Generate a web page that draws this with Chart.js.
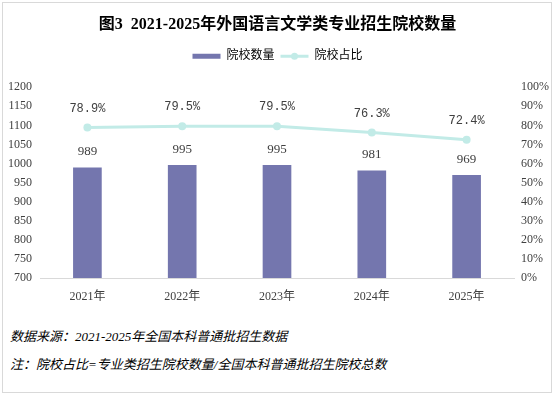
<!DOCTYPE html>
<html>
<head>
<meta charset="utf-8">
<script src="https://cdn.jsdelivr.net/npm/chart.js@4.4.1/dist/chart.umd.min.js"></script>
<style>
  body { margin: 0; background: #fff; }
  #box { position: absolute; left: 2px; top: 2px; width: 548px; height: 389px; border: 1px solid #d9d9d9; }
  #chart { position: absolute; left: 0; top: 0; }
  .note { position: absolute; left: 10px; font: italic 13px "Liberation Serif", "Noto Sans CJK SC"; color: #000; white-space: nowrap; }
</style>
</head>
<body>
<div id="box"></div>
<canvas id="chart" width="555" height="305"></canvas>
<div class="note" style="top:326px">数据来源：2021-2025年全国本科普通批招生数据</div>
<div class="note" style="top:354px">注：院校占比=专业类招生院校数量/全国本科普通批招生院校总数</div>
<script>
// data
const years = ['2021年', '2022年', '2023年', '2024年', '2025年'];
const schoolCounts = [989, 995, 995, 981, 969];
const shares = [78.9, 79.5, 79.5, 76.3, 72.4];

const barColor = '#7476ae';
const lineColor = '#c2ebe7';
const tickColor = '#404040';

// value labels above bars and points
const valueLabels = {
    id: 'valueLabels',
    afterDatasetsDraw(chart) {
        const ctx = chart.ctx;
        ctx.save();
        ctx.textAlign = 'center';
        ctx.textBaseline = 'middle';
        ctx.fillStyle = tickColor;
        ctx.font = '13px "Liberation Serif"';
        chart.getDatasetMeta(0).data.forEach((bar, i) => {
            ctx.fillText(schoolCounts[i], bar.x, bar.y - 16);
        });
        ctx.font = '12px "Liberation Mono"';
        chart.getDatasetMeta(1).data.forEach((pt, i) => {
            ctx.fillText(shares[i].toFixed(1) + '%', pt.x, pt.y - 19);
        });
        ctx.restore();
    }
};

// legend: extra space below it, and a dot in the middle of the line swatch
const legendTweaks = {
    id: 'legendTweaks',
    beforeInit(chart) {
        const legend = chart.legend;
        const fit = legend.fit;
        legend.fit = function () {
            fit.call(this);
            this.height += 15;
        };
    },
    afterDraw(chart) {
        const legend = chart.legend;
        if (!legend || !legend.legendHitBoxes[1]) return;
        const box = legend.legendHitBoxes[1];
        const ctx = chart.ctx;
        ctx.save();
        ctx.fillStyle = lineColor;
        ctx.beginPath();
        ctx.arc(box.left + 14, box.top + box.height / 2, 3.5, 0, Math.PI * 2);
        ctx.fill();
        ctx.restore();
    }
};

const config = {
    data: {
        labels: years,
        datasets: [
            {
                type: 'bar',
                label: '院校数量',
                data: schoolCounts,
                backgroundColor: barColor,
                barThickness: 28,
                yAxisID: 'y',
                order: 2
            },
            {
                type: 'line',
                label: '院校占比',
                data: shares,
                borderColor: lineColor,
                backgroundColor: lineColor,
                borderWidth: 3,
                pointRadius: 4,
                pointBackgroundColor: lineColor,
                pointBorderWidth: 0,
                yAxisID: 'y1',
                order: 1
            }
        ]
    },
    options: {
        responsive: false,
        animation: false,
        layout: { padding: { top: 0, left: 0, right: 0, bottom: 0 } },
        plugins: {
            title: {
                display: true,
                text: '图3  2021-2025年外国语言文学类专业招生院校数量',
                color: '#000',
                font: { family: '"Liberation Serif", "Noto Sans CJK SC"', size: 16, weight: 'bold' },
                padding: { top: 15, bottom: 10 }
            },
            legend: {
                position: 'top',
                labels: {
                    usePointStyle: true,
                    pointStyleWidth: 28,
                    boxHeight: 5,
                    padding: 6,
                    color: '#404040',
                    font: { family: '"Liberation Serif", "Noto Sans CJK SC"', size: 12 },
                    generateLabels(chart) {
                        return [
                            { text: '院校数量', fillStyle: barColor, strokeStyle: barColor, lineWidth: 0, pointStyle: 'rect', datasetIndex: 0 },
                            { text: '院校占比', fillStyle: lineColor, strokeStyle: lineColor, lineWidth: 3, pointStyle: 'line', datasetIndex: 1 }
                        ];
                    }
                }
            },
            tooltip: { enabled: false }
        },
        scales: {
            x: {
                grid: { display: false },
                border: { color: '#d9d9d9' },
                ticks: { color: tickColor, padding: 4, font: { family: '"Liberation Serif", "Noto Sans CJK SC"', size: 12 } },
                afterFit(scale) { scale.height = 27; }
            },
            y: {
                position: 'left',
                min: 700,
                max: 1200,
                grid: { display: false, drawTicks: false },
                border: { display: false },
                ticks: {
                    stepSize: 50,
                    color: tickColor,
                    padding: 8,
                    font: { family: 'Liberation Serif', size: 12 },
                    callback: v => String(v)
                },
                afterFit(scale) { scale.width = 40; }
            },
            y1: {
                position: 'right',
                min: 0,
                max: 100,
                grid: { display: false, drawTicks: false },
                border: { display: false },
                ticks: {
                    stepSize: 10,
                    color: tickColor,
                    padding: 7,
                    font: { family: 'Liberation Serif', size: 12 },
                    callback: v => v + '%'
                },
                afterFit(scale) { scale.width = 41; }
            }
        }
    },
    plugins: [valueLabels, legendTweaks]
};

const chart = new Chart(document.getElementById('chart'), config);
</script>
</body>
</html>
